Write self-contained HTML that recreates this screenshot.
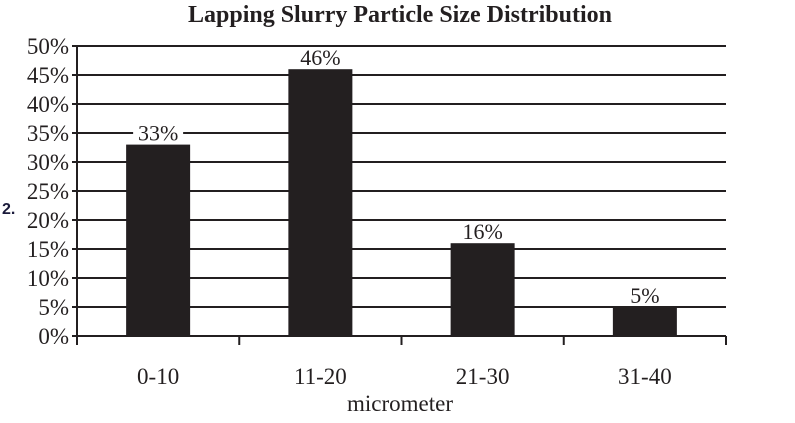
<!DOCTYPE html>
<html><head><meta charset="utf-8"><style>
body{margin:0;background:#fff;width:795px;height:418px;overflow:hidden}
svg text{font-family:"Liberation Serif",serif;fill:#231f20}
</style></head><body>
<svg width="795" height="418">
<text x="400" y="22" text-anchor="middle" font-size="24" font-weight="bold">Lapping Slurry Particle Size Distribution</text>
<text x="2" y="214" font-size="16" font-weight="bold" style="font-family:'Liberation Sans',sans-serif;fill:#1a1a3a">2.</text>
<g id="grid"></g><g id="bars"></g><g id="axes"></g>
<text x="400" y="411" text-anchor="middle" font-size="23">micrometer</text>
</svg>
<script>
const categories=["0-10","11-20","21-30","31-40"];
const values=[33,46,16,5];
const valueLabels=["33%","46%","16%","5%"];
const yTicks=[0,5,10,15,20,25,30,35,40,45,50];
const ns="http://www.w3.org/2000/svg";
const X0=77,X1=726,Y0=336,Y50=46;
const y=v=>Y0-(v/50)*(Y0-Y50);
const band=(X1-X0)/categories.length;
const xc=i=>X0+band*(i+0.5);
function mk(t,a,p){const e=document.createElementNS(ns,t);for(const k in a)e.setAttribute(k,a[k]);p.appendChild(e);return e;}
const g=document.getElementById('grid'),b=document.getElementById('bars'),ax=document.getElementById('axes');
yTicks.forEach(v=>{
 const l=mk('line',{x1:X0-5,x2:X1,y1:y(v),y2:y(v),stroke:'#231f20','stroke-width':2},g);
 
 
 const t=mk('text',{x:X0-8,y:y(v)+8,'text-anchor':'end','font-size':23},g);
 t.textContent=v+'%';
 
 
});
const bw=64;
categories.forEach((c,i)=>{
 const r=mk('rect',{x:xc(i)-bw/2,y:y(values[i]),width:bw,height:Y0-y(values[i]),fill:'#231f20'},b);
 
 
 const bg=mk('rect',{x:xc(i)-25,y:y(values[i])-22,width:50,height:20,fill:'#fff'},b);
 
 
 const vl=mk('text',{x:xc(i),y:y(values[i])-4,'text-anchor':'middle','font-size':22},b);
 vl.textContent=valueLabels[i];
 
 
 const cl=mk('text',{x:xc(i),y:384,'text-anchor':'middle','font-size':23},b);
 cl.textContent=c;
 
 
});
const ya=mk('line',{x1:X0,x2:X0,y1:Y50,y2:Y0+9,stroke:'#231f20','stroke-width':2},ax);


for(let i=1;i<=categories.length;i++){
 const tk=mk('line',{x1:X0+band*i,x2:X0+band*i,y1:Y0,y2:Y0+9,stroke:'#231f20','stroke-width':2},ax);
 
 
}
</script>
</body></html>
